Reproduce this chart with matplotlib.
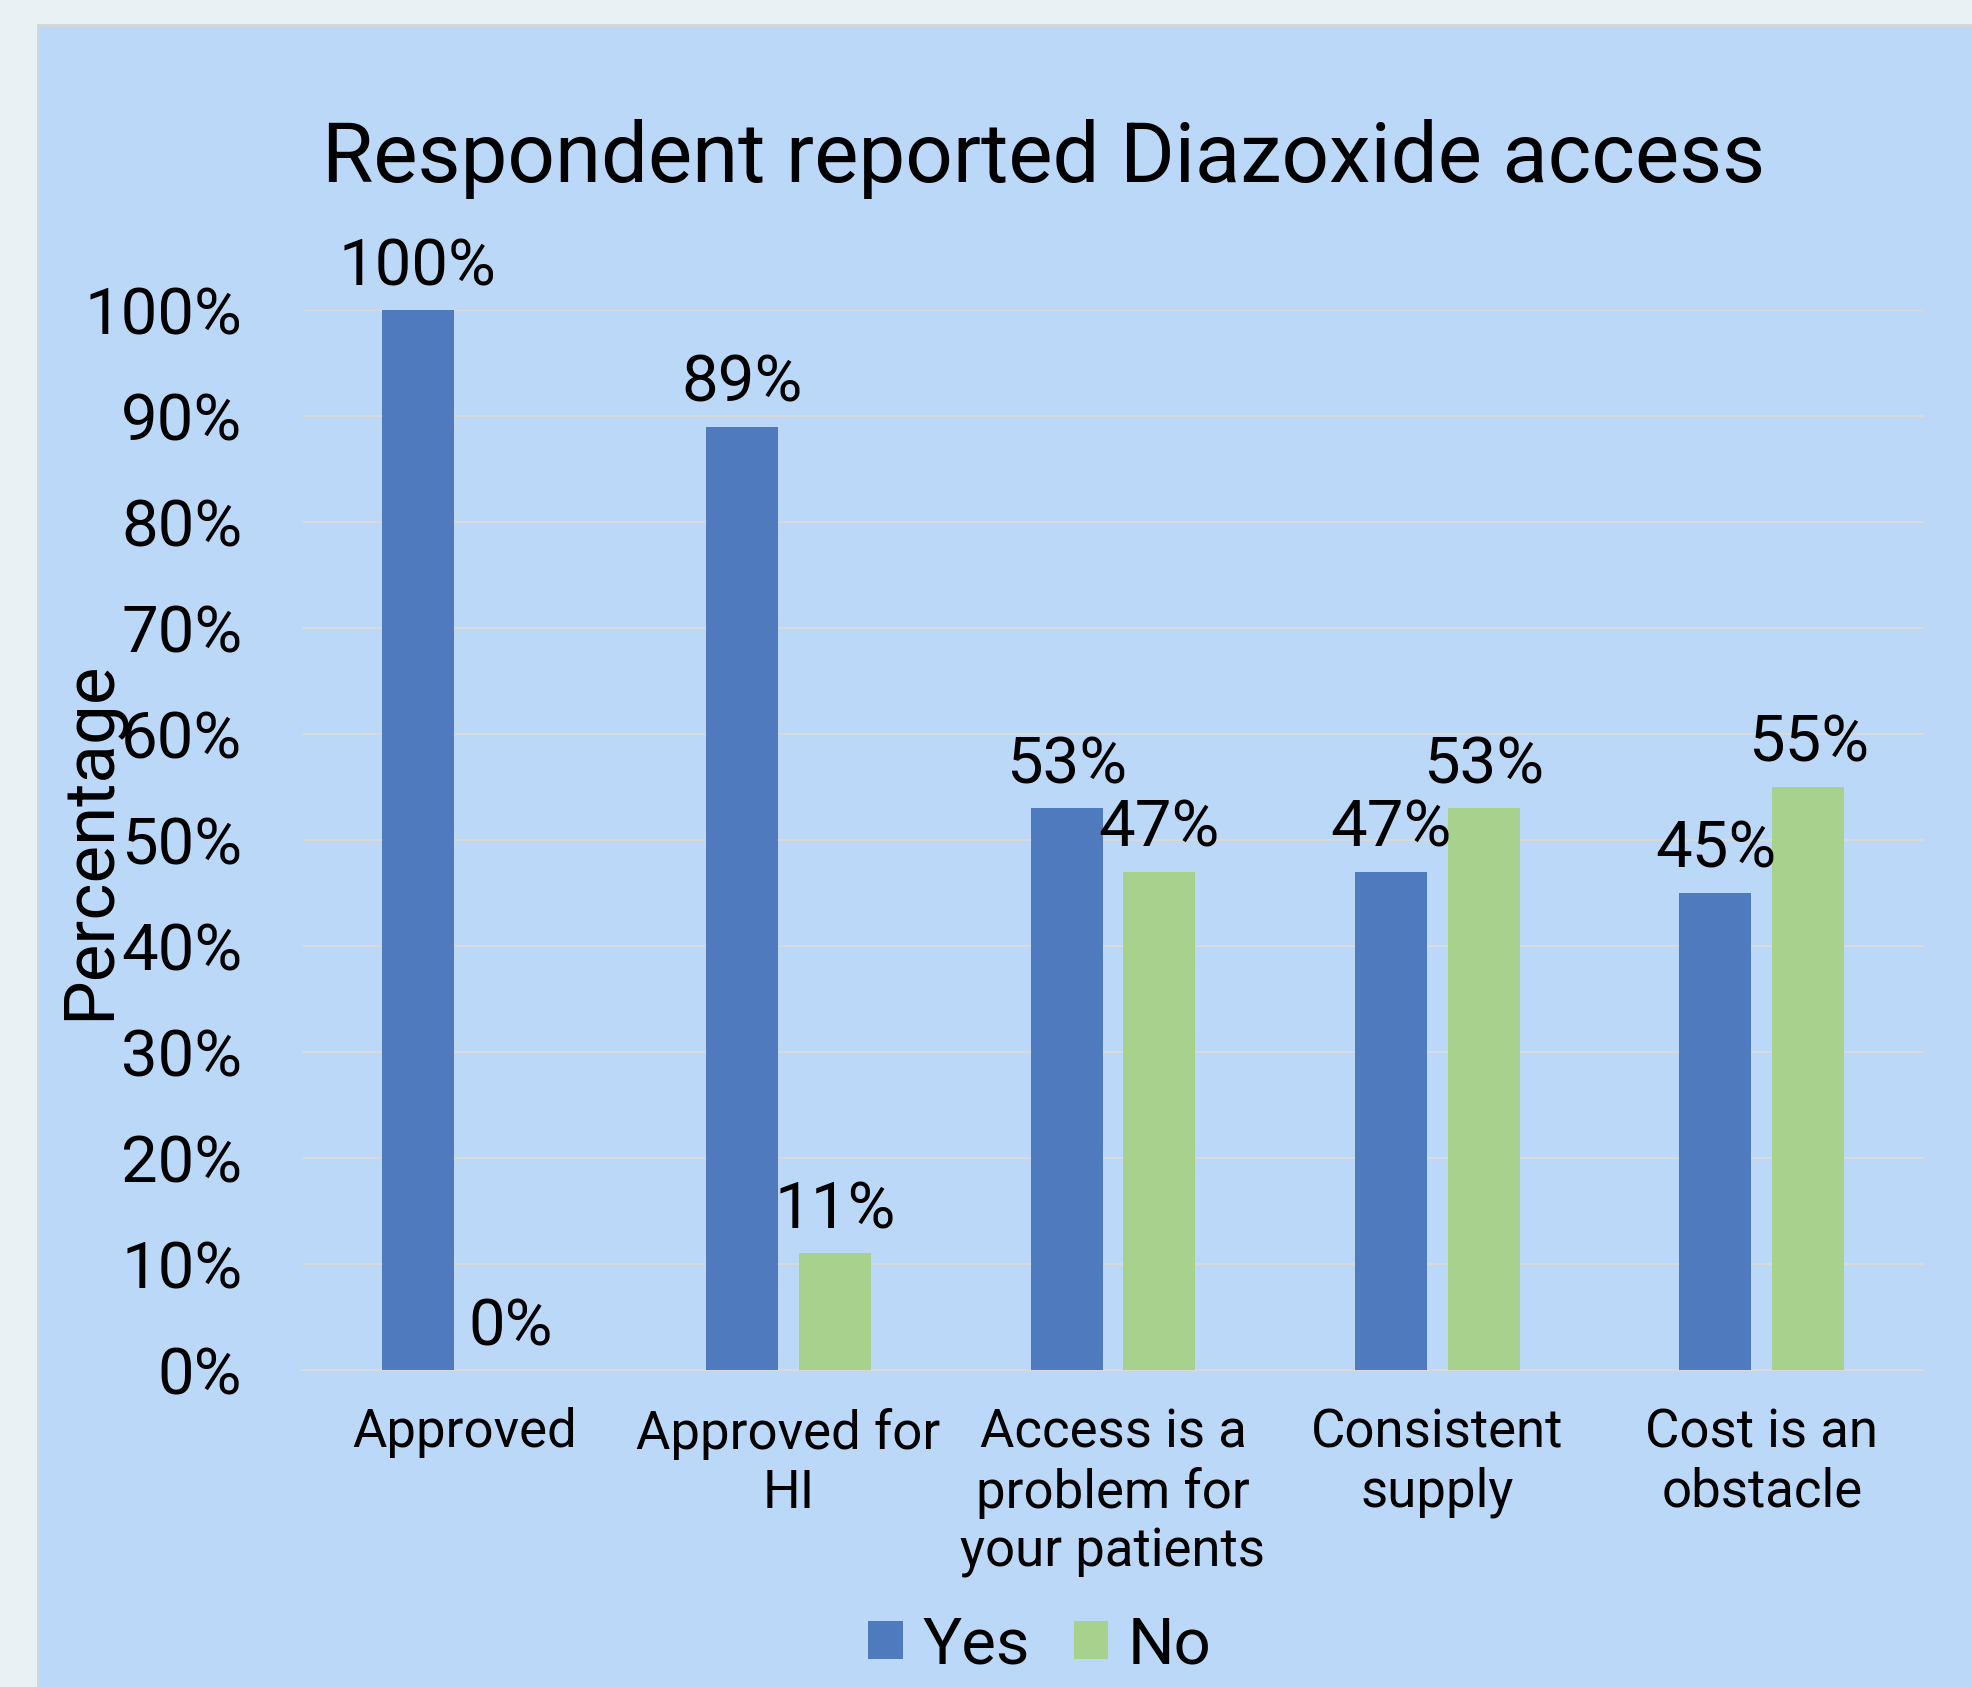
import matplotlib
matplotlib.use("Agg")
import matplotlib.pyplot as plt
from matplotlib.patches import Rectangle
import numpy as np

categories = ["Approved", "Approved for\nHI", "Access is a\nproblem for\nyour patients",
              "Consistent\nsupply", "Cost is an\nobstacle"]
yes_values = [100, 89, 53, 47, 45]
no_values = [0, 11, 47, 53, 55]
series_names = ["Yes", "No"]
y_ticks = [0, 10, 20, 30, 40, 50, 60, 70, 80, 90, 100]
title = "Respondent reported Diazoxide access"
y_label = "Percentage"

YES_COLOR = "#4F7BBE"
NO_COLOR = "#A9D18E"
PANEL_BG = "#BBD8F9"
OUTER_BG = "#E8F1F3"
GRID = "#D9D9D9"

plt.rcParams['font.family'] = ['Roboto', 'DejaVu Sans']

W, H = 1972, 1687
fig = plt.figure(figsize=(W / 100, H / 100), dpi=100)
fig.patch.set_facecolor(OUTER_BG)
fig.patches.append(Rectangle((38 / W, -0.01), 1.02, 1 - 25 / H + 0.01,
                             transform=fig.transFigure, facecolor=PANEL_BG,
                             edgecolor="#D3D6D8", linewidth=2, zorder=-10))

left, right, top, bottom = 302, 1924, 310, 1370
ax = fig.add_axes([left / W, 1 - bottom / H, (right - left) / W, (bottom - top) / H])
ax.set_facecolor("none")
ax.set_zorder(1)

x = np.arange(len(categories))
bw = 0.222
off = 0.143
b1 = ax.bar(x - off, yes_values, width=bw, color=YES_COLOR, label=series_names[0], zorder=3)
b2 = ax.bar(x + off, no_values, width=bw, color=NO_COLOR, label=series_names[1], zorder=3)

for bars, vals in ((b1, yes_values), (b2, no_values)):
    for rect, v in zip(bars, vals):
        ax.annotate(f"{v}%", (rect.get_x() + rect.get_width() / 2, v),
                    xytext=(0, 25), textcoords="offset pixels",
                    ha="center", va="baseline", fontsize=47, color="black",
                    annotation_clip=False, zorder=5)

ax.set_xlim(-0.5, len(categories) - 0.5)
ax.set_ylim(0, 100)
ax.set_yticks(y_ticks)
ax.set_yticklabels([f"{t}%" for t in y_ticks], fontsize=47)
ax.set_xticks(x)
ax.set_xticklabels(categories, fontsize=38, linespacing=1.2, va="top")
ax.tick_params(axis="y", length=0, pad=43)
ax.tick_params(axis="x", length=0, pad=27)
ax.yaxis.grid(True, color=GRID, linewidth=1.5, zorder=0)
ax.set_axisbelow(True)
for s in ("top", "right", "left"):
    ax.spines[s].set_visible(False)
ax.spines["bottom"].set_color(GRID)
ax.spines["bottom"].set_linewidth(1.5)

fig.text(1044 / W, 1 - 182 / H, title, ha="center", va="baseline", fontsize=60)
fig.text(90 / W, 1 - 840 / H, y_label, rotation=90, ha="center", va="center", fontsize=51)

leg = fig.legend(handles=[b1, b2], labels=series_names, loc="center",
                 bbox_to_anchor=(1040 / W, 1 - 1645 / H), ncol=2, frameon=False,
                 fontsize=47, handlelength=0.53, handleheight=0.53,
                 handletextpad=0.3, columnspacing=0.67)

fig.savefig("out.png", dpi=100, facecolor=fig.get_facecolor())
